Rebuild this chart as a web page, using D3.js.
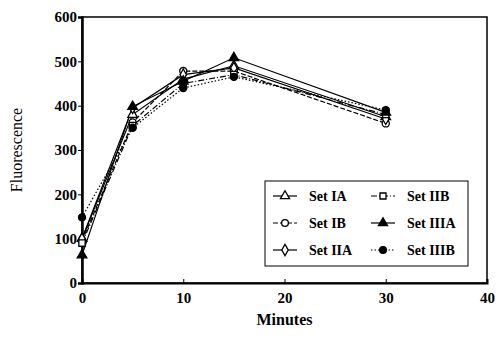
<!DOCTYPE html>
<html>
<head>
<meta charset="utf-8">
<script src="https://cdn.jsdelivr.net/npm/d3@7"></script>
<style>
body { margin: 0; background: #fff; }
text { font-family: "Liberation Serif", "DejaVu Serif", serif; fill: #000; }
</style>
</head>
<body>
<svg id="chart" width="499" height="350"></svg>
<script>
var minutes = [0, 5, 10, 15, 30];
var setIA = [100, 380, 460, 490, 375];
var setIB = [95, 362, 478, 478, 360];
var setIIA = [100, 395, 470, 485, 370];
var setIIB = [90, 355, 450, 470, 380];
var setIIIA = [63, 398, 455, 508, 385];
var setIIIB = [148, 350, 440, 465, 390];
var seriesNames = ["Set IA", "Set IB", "Set IIA", "Set IIB", "Set IIIA", "Set IIIB"];
var xTicks = [0, 10, 20, 30, 40];
var yTicks = [0, 100, 200, 300, 400, 500, 600];

var series = [
    {name: seriesNames[0], values: setIA, shape: "triangle", fill: "#fff", dash: null},
    {name: seriesNames[1], values: setIB, shape: "circle", fill: "#fff", dash: "5,2"},
    {name: seriesNames[2], values: setIIA, shape: "diamond", fill: "#fff", dash: null},
    {name: seriesNames[3], values: setIIB, shape: "square", fill: "#fff", dash: "6,2,1,2"},
    {name: seriesNames[4], values: setIIIA, shape: "triangle", fill: "#000", dash: null},
    {name: seriesNames[5], values: setIIIB, shape: "circle", fill: "#000", dash: "1.5,2"}
];

var svg = d3.select("#chart");
var margin = {top: 17, right: 12, bottom: 67, left: 82};
var width = 499 - margin.left - margin.right;
var height = 350 - margin.top - margin.bottom;
var g = svg.append("g").attr("transform", "translate(" + margin.left + "," + margin.top + ")");

var x = d3.scaleLinear().domain([0, 40]).range([0, width]);
var y = d3.scaleLinear().domain([0, 600]).range([height, 0]);

// frame
g.append("rect")
    .attr("width", width)
    .attr("height", height)
    .attr("fill", "none")
    .attr("stroke", "#000")
    .attr("stroke-width", 1.5);

g.append("g")
    .attr("transform", "translate(0," + height + ")")
    .call(d3.axisBottom(x).tickValues(xTicks).tickSize(-4).tickPadding(9))
    .call(function (a) {
        a.select(".domain").attr("stroke-width", 2);
        a.selectAll("text").style("font-size", "15px").style("font-weight", "bold");
    });

g.append("g")
    .call(d3.axisLeft(y).tickValues(yTicks).tickSize(4).tickPadding(1))
    .call(function (a) {
        a.select(".domain").attr("stroke-width", 2.5);
        a.selectAll("text").style("font-size", "15px").style("font-weight", "bold");
    });

function symbolFor(shape) {
    if (shape === "triangle") return d3.symbolTriangle;
    if (shape === "square") return d3.symbolSquare;
    if (shape === "diamond") return d3.symbolDiamond;
    return d3.symbolCircle;
}

var line = d3.line()
    .x(function (d, i) { return x(minutes[i]); })
    .y(function (d) { return y(d); });

series.forEach(function (s) {
    g.append("path")
        .datum(s.values)
        .attr("d", line)
        .attr("fill", "none")
        .attr("stroke", "#000")
        .attr("stroke-width", 1.2)
        .attr("stroke-dasharray", s.dash);
});

series.forEach(function (s) {
    g.selectAll(null)
        .data(s.values)
        .enter().append("path")
        .attr("transform", function (d, i) {
            return "translate(" + x(minutes[i]) + "," + y(d) + ")";
        })
        .attr("d", d3.symbol().type(symbolFor(s.shape)).size(s.shape === "diamond" ? 36 : 40))
        .attr("fill", s.fill)
        .attr("stroke", "#000")
        .attr("stroke-width", 1.3);
});

// axis titles
svg.append("text")
    .attr("transform", "translate(22," + (margin.top + height / 2) + ") rotate(-90)")
    .attr("text-anchor", "middle")
    .style("font-size", "16px")
    .text("Fluorescence");

svg.append("text")
    .attr("x", margin.left + width / 2)
    .attr("y", 325)
    .attr("text-anchor", "middle")
    .style("font-size", "16px")
    .style("font-weight", "bold")
    .text("Minutes");

// legend
var legend = svg.append("g").attr("transform", "translate(265,181)");
legend.append("rect")
    .attr("width", 203)
    .attr("height", 85)
    .attr("fill", "#fff")
    .attr("stroke", "#000")
    .attr("stroke-width", 1);

var order = [0, 3, 1, 4, 2, 5];
order.forEach(function (k, j) {
    var s = series[k];
    var col = j % 2, row = Math.floor(j / 2);
    var item = legend.append("g")
        .attr("transform", "translate(" + (8 + col * 98) + "," + (15 + row * 27) + ")");
    item.append("line")
        .attr("x1", 0).attr("x2", 24)
        .attr("stroke", "#000")
        .attr("stroke-width", 1.2)
        .attr("stroke-dasharray", s.dash);
    item.append("path")
        .attr("transform", "translate(12,0)")
        .attr("d", d3.symbol().type(symbolFor(s.shape)).size(36))
        .attr("fill", s.fill)
        .attr("stroke", "#000")
        .attr("stroke-width", 1.3);
    item.append("text")
        .attr("x", 36)
        .attr("dy", "0.35em")
        .style("font-size", "14px")
        .style("font-weight", "bold")
        .text(s.name);
});
</script>
</body>
</html>
